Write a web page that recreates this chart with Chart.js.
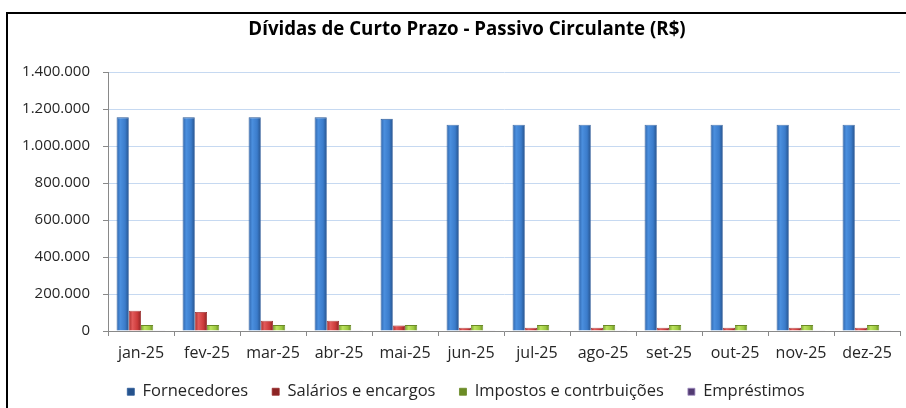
<!DOCTYPE html>
<html>
<head>
<meta charset="utf-8">
<script src="https://cdn.jsdelivr.net/npm/chart.js@4.4.1/dist/chart.umd.min.js"></script>
<style>
  html, body { margin: 0; padding: 0; background: #ffffff; overflow: hidden; }
  #wrap { position: relative; width: 906px; height: 408px; overflow: hidden; }
  #frame { position: absolute; left: 6px; top: 12px; width: 1000px; height: 500px; border: 2px solid #000; box-sizing: border-box; }
  canvas { position: absolute; left: 0; top: 0; }
</style>
</head>
<body>
<div id="wrap">
  <div id="frame"></div>
  <canvas id="c" width="906" height="408"></canvas>
</div>
<script>
const categories = ['jan-25','fev-25','mar-25','abr-25','mai-25','jun-25','jul-25','ago-25','set-25','out-25','nov-25','dez-25'];
const fornecedores = [1155000,1155000,1155000,1155000,1147000,1115000,1115000,1115000,1115000,1115000,1115000,1115000];
const salarios     = [110000,103000,56000,56000,30000,18000,18000,18000,18000,18000,18000,18000];
const impostos     = [32000,32000,32000,32000,32000,32000,32000,32000,32000,32000,32000,32000];
const emprestimos  = [4000,4000,4000,4000,4000,4000,4000,4000,4000,4000,4000,4000];
const yTicks = [0,200000,400000,600000,800000,1000000,1200000,1400000];

const FONT = "'Open Sans', sans-serif";
const CAT_PCT = 0.74;
function fmt(v){ return String(v).replace(/\B(?=(\d{3})+(?!\d))/g, '.'); }

// colour stops for a slightly "3D" look: [edge, light, mid, dark edge]
const palettes = [
  { base: '#3a78c6', stops: ['#2d62a8', '#4b8fde', '#3b7ccb', '#25528c'] },
  { base: '#cf3a3a', stops: ['#a82d2d', '#e25a5a', '#cc3b3b', '#8c2424'] },
  { base: '#9dcb3c', stops: ['#7fa52e', '#bde35f', '#9cc83f', '#6b8c25'] },
  { base: '#7b5aa8', stops: ['#634889', '#9877c6', '#7b5aa8', '#523b72'] }
];

function barFill(context) {
  const chart = context.chart;
  const pal = palettes[context.datasetIndex];
  const xs = chart.scales && chart.scales.x;
  if (!xs || !chart.chartArea || context.dataIndex === undefined || context.type !== 'data') return pal.base;
  const cw = xs.width / categories.length;
  const gw = cw * CAT_PCT;
  const bw = gw / 4;
  const center = xs.getPixelForValue(context.dataIndex);
  const x0 = center - gw / 2 + context.datasetIndex * bw;
  const g = chart.ctx.createLinearGradient(x0, 0, x0 + bw, 0);
  g.addColorStop(0, pal.stops[0]);
  g.addColorStop(0.3, pal.stops[1]);
  g.addColorStop(0.7, pal.stops[2]);
  g.addColorStop(1, pal.stops[3]);
  return g;
}

// shift title / legend to match the original's horizontal centring
const shiftPlugin = {
  id: 'shiftBlocks',
  afterLayout(chart) {
    if (chart.titleBlock) { chart.titleBlock.left += 26; }
    if (chart.legend) { chart.legend.left += 24; chart.legend.top += 2; chart.legend.bottom += 2; }
  }
};

const ctx = document.getElementById('c').getContext('2d');
new Chart(ctx, {
  type: 'bar',
  data: {
    labels: categories,
    datasets: [
      { label: 'Fornecedores', data: fornecedores, backgroundColor: barFill, borderColor: '#2a5896', borderWidth: 0.8 },
      { label: 'Salários e encargos', data: salarios, backgroundColor: barFill, borderColor: '#962a2a', borderWidth: 0.8 },
      { label: 'Impostos e contrbuições', data: impostos, backgroundColor: barFill, borderColor: '#6a8a26', borderWidth: 0.8 },
      { label: 'Empréstimos', data: emprestimos, backgroundColor: barFill, borderColor: '#a08cc0', borderWidth: 0.8 }
    ]
  },
  plugins: [shiftPlugin],
  options: {
    responsive: false,
    animation: false,
    devicePixelRatio: 1,
    layout: { padding: { left: 8, right: 6, top: 0, bottom: 0 } },
    datasets: { bar: { categoryPercentage: CAT_PCT, barPercentage: 1.0 } },
    plugins: {
      title: {
        display: true,
        text: 'Dívidas de Curto Prazo - Passivo Circulante (R$)',
        color: '#000',
        font: { family: FONT, size: 18.7, weight: 'bold' },
        padding: { top: 18.6, bottom: 31 }
      },
      legend: {
        position: 'bottom',
        labels: {
          color: '#262626',
          font: { family: FONT, size: 16.5 },
          boxWidth: 7, boxHeight: 7,
          padding: 24
        }
      },
      tooltip: { enabled: false }
    },
    scales: {
      x: {
        offset: true,
        grid: { display: true, drawOnChartArea: false, offset: true, color: '#898989', tickLength: 5 },
        border: { display: true, color: '#898989', width: 1 },
        ticks: { color: '#262626', font: { family: FONT, size: 16 }, padding: 7.5, maxRotation: 0 },
        afterFit(scale){ scale.height = 26.5; scale._computeLabelArea = () => undefined; }
      },
      y: {
        min: 0, max: 1400000,
        afterBuildTicks(scale){ scale.ticks = yTicks.map(v => ({ value: v })); },
        grid: { color: '#c6d9f1', borderDash: [4,3], tickColor: '#898989', tickBorderDash: [], tickLength: 5 },
        border: { display: true, color: '#898989', width: 1 },
        ticks: { color: '#262626', font: { family: FONT, size: 15 }, padding: 13, callback: v => fmt(v) },
        afterFit(scale){ scale.width = 100; }
      }
    }
  }
});
</script>
</body>
</html>
